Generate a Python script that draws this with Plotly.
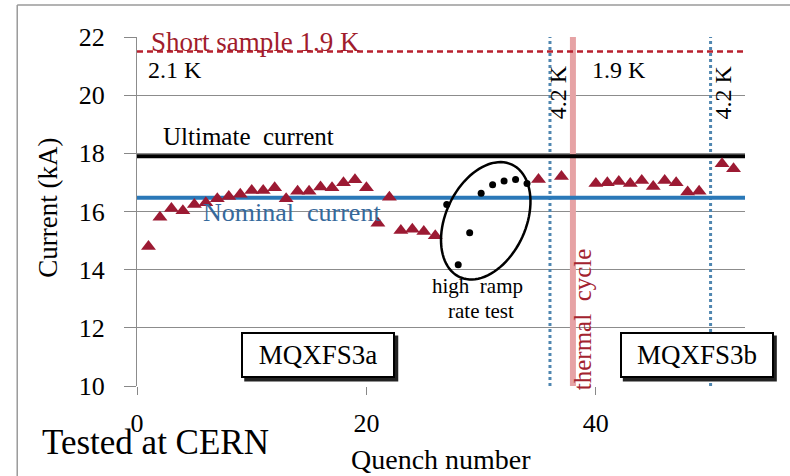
import numpy as np
import plotly.graph_objects as go

# ---- data ----
tri_x = [1, 2, 3, 4, 5, 6, 7, 8, 9, 10, 11, 12, 13, 14, 15, 16, 17, 18, 19, 20, 21, 22,
         23, 24, 25, 26, 35, 37,
         40, 41, 42, 43, 44, 45, 46, 47, 48, 49, 51, 52]
tri_y = [14.8, 15.8, 16.1, 16.03, 16.24, 16.3, 16.44, 16.52, 16.59, 16.72, 16.72, 16.82, 16.44,
         16.7, 16.7, 16.84, 16.82, 16.99, 17.09, 16.82, 15.6, 16.49,
         15.35, 15.39, 15.31, 15.17, 17.1, 17.2,
         16.96, 16.99, 17.03, 16.96, 17.07, 16.86, 17.07, 16.99, 16.67, 16.7, 17.64, 17.47]
ramp_x = [27, 28, 29, 30, 31, 32, 33, 34]
ramp_y = [16.24, 14.17, 15.27, 16.63, 16.92, 17.05, 17.1, 16.96]

short_sample = 21.5
ultimate = 17.9
nominal = 16.47
dotted_x = [36, 50]
thermal_x = 38
x_range = [0, 53]
y_range = [10, 22]
x_ticks = [0, 20, 40]
y_ticks = [10, 12, 14, 16, 18, 20, 22]

FONT = "Liberation Serif, Times New Roman, serif"

fig = go.Figure()

# reference lines
fig.add_trace(go.Scatter(x=[thermal_x, thermal_x], y=y_range, mode="lines",
                         line=dict(color="#e6a3a5", width=6), hoverinfo="skip"))
fig.add_trace(go.Scatter(x=x_range, y=[short_sample] * 2, mode="lines",
                         line=dict(color="#b8202e", width=2.5, dash="6px,4px"), hoverinfo="skip"))
for dx in dotted_x:
    fig.add_trace(go.Scatter(x=[dx, dx], y=y_range, mode="lines",
                             line=dict(color="#4f86b0", width=3, dash="dot"), hoverinfo="skip"))
fig.add_trace(go.Scatter(x=x_range, y=[ultimate] * 2, mode="lines",
                         line=dict(color="black", width=4), hoverinfo="skip"))
fig.add_trace(go.Scatter(x=x_range, y=[nominal] * 2, mode="lines",
                         line=dict(color="#2a78b8", width=4), hoverinfo="skip"))

# data
fig.add_trace(go.Scatter(x=tri_x, y=tri_y, mode="markers",
                         marker=dict(symbol="triangle-up", size=13, color="#9c1a33")))
fig.add_trace(go.Scatter(x=ramp_x, y=ramp_y, mode="markers",
                         marker=dict(symbol="circle", size=7, color="black")))

# pixel scale of the plot area
PW, PH = 608, 349
kx = PW / (x_range[1] - x_range[0])
ky = PH / (y_range[1] - y_range[0])

# ellipse around high ramp rate points (pixel-proportional parameters)
cx, cy = 30.4, 15.68
a_px, b_px, theta = 62, 40, np.deg2rad(25)
t = np.linspace(0, 2 * np.pi, 90)
ux, uy = np.sin(theta), np.cos(theta)      # major axis (up-right)
vx, vy = np.cos(theta), -np.sin(theta)     # minor axis
px = a_px * np.cos(t) * ux + b_px * np.sin(t) * vx
py = a_px * np.cos(t) * uy + b_px * np.sin(t) * vy
ex = cx + px / kx
ey = cy + py / ky
path = "M " + " L ".join(f"{x:.3f},{y:.3f}" for x, y in zip(ex, ey)) + " Z"

shapes = [
    dict(type="path", path=path, xref="x", yref="y", line=dict(color="black", width=2.5)),
    # outer frame
    dict(type="line", xref="paper", yref="paper", x0=-0.197, x1=-0.197, y0=1.092, y1=-0.3,
         line=dict(color="#9a9a9a", width=1.5)),
    dict(type="line", xref="paper", yref="paper", x0=-0.197, x1=1.2, y0=1.092, y1=1.092,
         line=dict(color="#9a9a9a", width=1.5)),
]

# label boxes (with a small drop shadow)
box_labels = ["MQXFS3a", "MQXFS3b"]
box_x = [15.8, 48.8]
box_y = 11.05
BW, BH, SH = 154, 46, 3
for bx in box_x:
    pxc = (bx - x_range[0]) / (x_range[1] - x_range[0])
    pyc = (box_y - y_range[0]) / (y_range[1] - y_range[0])
    shapes.append(dict(type="rect", xref="paper", yref="paper", layer="above",
                       x0=pxc + (-BW / 2 + SH) / PW, x1=pxc + (BW / 2 + SH) / PW,
                       y0=pyc + (-BH / 2 - SH) / PH, y1=pyc + (BH / 2 - SH) / PH,
                       fillcolor="#222", line=dict(width=0)))

def txt(x, y, s, size=24, color="black", angle=0, xref="x", yref="y", **kw):
    return dict(x=x, y=y, xref=xref, yref=yref, text=s, showarrow=False,
                xanchor="center", yanchor="middle",
                font=dict(family=FONT, size=size, color=color), textangle=angle, **kw)

annotations = [
    txt(10.3, 21.82, "Short sample 1.9 K", 27, "#a01c2c"),
    txt(3.3, 20.85, "2.1 K", 24),
    txt(42.0, 20.85, "1.9 K", 24),
    txt(36.7, 20.1, "4.2 K", 24, angle=-90),
    txt(51.1, 20.1, "4.2 K", 24, angle=-90),
    txt(9.7, 18.58, "Ultimate  current", 25),
    txt(13.5, 15.95, "Nominal  current", 26, "#35699c"),
    txt(38.8, 12.3, "thermal  cycle", 25, "#a3232f", angle=-90),
    txt(29.7, 13.45, "high  ramp", 21),
    txt(30.0, 12.58, "rate test", 21),
    txt(0.031, -0.163, "Tested at CERN", 35, xref="paper", yref="paper"),
    txt(0.5, -0.212, "Quench number", 28, xref="paper", yref="paper"),
    txt(-0.147, 0.51, "Current (kA)", 27, angle=-90, xref="paper", yref="paper"),
]
for lbl, bx in zip(box_labels, box_x):
    annotations.append(txt(bx, box_y, lbl, 27, bordercolor="black", borderwidth=2, borderpad=3,
                           bgcolor="white", width=BW - 10, height=BH - 10))

fig.update_layout(
    width=790, height=476,
    margin=dict(l=137, r=45, t=37, b=90),
    paper_bgcolor="white", plot_bgcolor="white",
    showlegend=False,
    shapes=shapes, annotations=annotations,
    font=dict(family=FONT, color="black"),
)
fig.update_xaxes(range=x_range, tickvals=x_ticks, ticks="outside", ticklen=8, tickcolor="#888",
                 showgrid=False, zeroline=False, showline=False,
                 tickfont=dict(family=FONT, size=26), ticklabelstandoff=6)
fig.update_yaxes(range=y_range, tickvals=y_ticks, ticks="outside", ticklen=12, tickcolor="#888",
                 showgrid=True, gridcolor="#8c8c8c", gridwidth=1, zeroline=False,
                 showline=True, linecolor="#8c8c8c", linewidth=1,
                 tickfont=dict(family=FONT, size=26), ticklabelstandoff=14)

fig.write_html("out.html")
